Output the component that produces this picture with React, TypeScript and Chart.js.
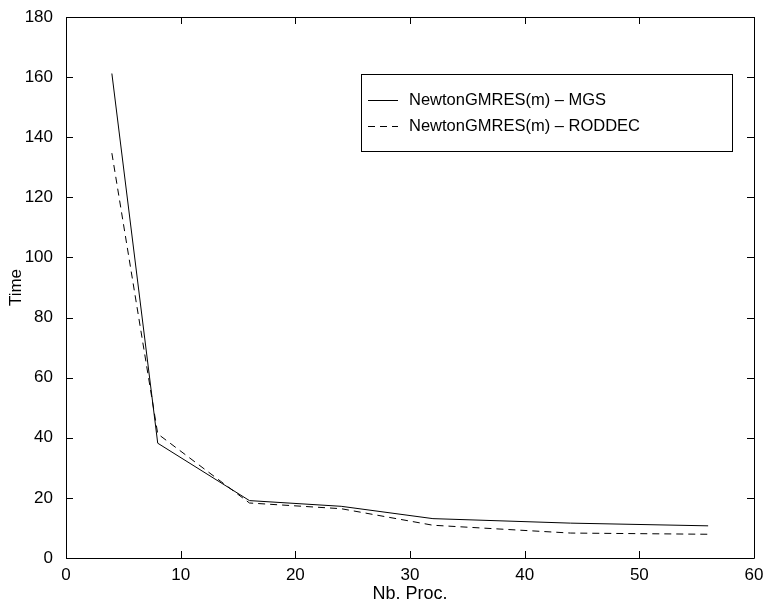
import React, { useEffect, useRef } from "react";
import { Chart, registerables } from "chart.js";

Chart.register(...registerables);

const procs = [4, 8, 16, 24, 32, 44, 56];
const mgsTimes = [161.2, 38.2, 19.1, 17.2, 13.1, 11.6, 10.7];
const roddecTimes = [134.7, 41.3, 18.3, 16.4, 10.9, 8.3, 7.9];
const seriesLabels = ["NewtonGMRES(m) \u2013 MGS", "NewtonGMRES(m) \u2013 RODDEC"];
const xTicks = [0, 10, 20, 30, 40, 50, 60];
const yTicks = [0, 20, 40, 60, 80, 100, 120, 140, 160, 180];

const FONT = "'Liberation Sans', Arial, Helvetica, sans-serif";

const framePlugin = {
  id: "matlabFrame",
  afterDatasetsDraw(chart: any) {
    const { ctx, chartArea } = chart;
    const { left, right, top, bottom } = chartArea;
    ctx.save();
    ctx.strokeStyle = "#000";
    ctx.lineWidth = 1;
    ctx.setLineDash([]);
    ctx.beginPath();
    ctx.rect(Math.round(left) + 0.5, Math.round(top) + 0.5, Math.round(right - left), Math.round(bottom - top));
    ctx.stroke();
    const tl = 7;
    const xs = chart.scales.x;
    const ys = chart.scales.y;
    ctx.beginPath();
    xTicks.forEach((v) => {
      const px = Math.round(xs.getPixelForValue(v)) + 0.5;
      ctx.moveTo(px, bottom);
      ctx.lineTo(px, bottom - tl);
      ctx.moveTo(px, top);
      ctx.lineTo(px, top + tl);
    });
    yTicks.forEach((v) => {
      const py = Math.round(ys.getPixelForValue(v)) + 0.5;
      ctx.moveTo(left, py);
      ctx.lineTo(left + tl, py);
      ctx.moveTo(right, py);
      ctx.lineTo(right - tl, py);
    });
    ctx.stroke();

    // legend box
    const bx = 361.5, by = 74.5, bw = 371, bh = 77;
    ctx.fillStyle = "#fff";
    ctx.fillRect(bx, by, bw, bh);
    ctx.strokeRect(bx, by, bw, bh);
    const rows = [100, 126];
    const dashes = [[], [7, 5]];
    ctx.font = `16.5px ${FONT}`;
    ctx.textBaseline = "middle";
    ctx.textAlign = "left";
    rows.forEach((ry, i) => {
      ctx.setLineDash(dashes[i]);
      ctx.beginPath();
      ctx.moveTo(368, ry + 0.5);
      ctx.lineTo(398, ry + 0.5);
      ctx.stroke();
      ctx.setLineDash([]);
      ctx.fillStyle = "#000";
      ctx.fillText(seriesLabels[i], 409, ry);
    });
    ctx.restore();
  },
};

export default function App() {
  const ref = useRef<HTMLCanvasElement | null>(null);
  useEffect(() => {
    if (!ref.current) return;
    const chart = new Chart(ref.current, {
      type: "line",
      data: {
        datasets: [
          {
            label: seriesLabels[0],
            data: procs.map((p, i) => ({ x: p, y: mgsTimes[i] })),
            borderColor: "#000",
            borderWidth: 1,
            pointRadius: 0,
            tension: 0,
            fill: false,
          },
          {
            label: seriesLabels[1],
            data: procs.map((p, i) => ({ x: p, y: roddecTimes[i] })),
            borderColor: "#000",
            borderWidth: 1,
            borderDash: [7, 5],
            pointRadius: 0,
            tension: 0,
            fill: false,
          },
        ],
      },
      options: {
        animation: false,
        responsive: true,
        maintainAspectRatio: false,
        layout: { padding: { top: 17, right: 11, left: 0, bottom: 0 } },
        plugins: { legend: { display: false }, tooltip: { enabled: false } },
        scales: {
          x: {
            type: "linear",
            min: 0,
            max: 60,
            afterFit: (s: any) => {
              s.height = 48;
              s.paddingLeft = 0;
              s.paddingRight = 0;
            },
            afterBuildTicks: (s: any) => {
              s.ticks = xTicks.map((v) => ({ value: v }));
            },
            grid: { display: false },
            border: { display: false },
            ticks: { color: "#000", font: { family: FONT, size: 17 }, padding: -1, maxRotation: 0, autoSkip: false },
            title: { display: true, text: "Nb. Proc.", color: "#000", font: { family: FONT, size: 18 }, padding: { top: 0, bottom: 1 } },
          },
          y: {
            type: "linear",
            min: 0,
            max: 180,
            afterFit: (s: any) => {
              s.width = 66;
              s.paddingTop = 0;
              s.paddingBottom = 0;
            },
            afterBuildTicks: (s: any) => {
              s.ticks = yTicks.map((v) => ({ value: v }));
            },
            grid: { display: false },
            border: { display: false },
            ticks: { color: "#000", font: { family: FONT, size: 17 }, padding: 5, autoSkip: false },
            title: { display: true, text: "Time", color: "#000", font: { family: FONT, size: 17 }, padding: { top: 6.5, bottom: 0 } },
          },
        },
      },
      plugins: [framePlugin],
    });
    return () => chart.destroy();
  }, []);
  return (
    <div style={{ position: "fixed", left: 0, top: 0, width: 765, height: 606, background: "#fff" }}>
      <canvas ref={ref} />
    </div>
  );
}
